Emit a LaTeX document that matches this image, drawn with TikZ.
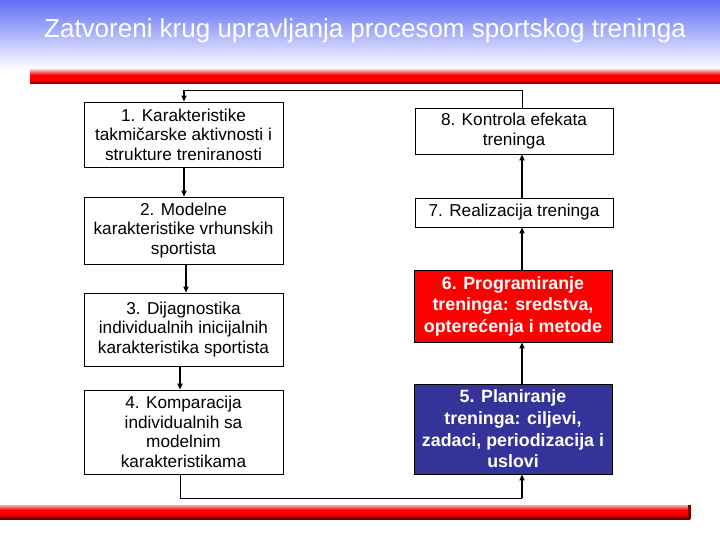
\documentclass[tikz,border=0pt]{standalone}
\usepackage{fontspec}
\setmainfont{Liberation Sans}
\usetikzlibrary{arrows.meta}
\definecolor{titleblue}{RGB}{96,110,246}
\definecolor{boxred}{RGB}{255,0,0}
\definecolor{boxblue}{RGB}{51,51,153}
\definecolor{barred}{RGB}{250,0,0}
\definecolor{bardark}{RGB}{90,0,0}
\definecolor{barlight}{RGB}{250,170,170}
\tikzset{
  pbox/.style={draw=black, line width=0.8pt, fill=white, align=center, inner sep=2pt,
    font=\fontsize{17.2}{19.6}\selectfont, text=black},
  redbox/.style={pbox, fill=boxred, text=white, font=\fontsize{17.8}{21.5}\selectfont\bfseries},
  bluebox/.style={pbox, fill=boxblue, text=white, font=\fontsize{17.8}{21.7}\selectfont\bfseries},
  arr/.style={line width=1.6pt, -{Triangle[length=6pt,width=5pt]}},
  loopline/.style={line width=0.9pt},
}
\begin{document}
\begin{tikzpicture}[x=1pt,y=-1pt]
\useasboundingbox (0,0) rectangle (720,540);
\fill[white] (0,0) rectangle (720,540);
% title gradient
\shade[top color=titleblue, bottom color=white] (0,0) rectangle (720,70);
\node[text=white, font=\fontsize{26}{28}\selectfont] (title) at (365,31) {Zatvoreni krug upravljanja procesom sportskog treninga};
% red bars
\shade[top color=barlight, bottom color=barred] (30,70) rectangle (720,75);
\fill[barred] (30,75) rectangle (720,80);
\shade[top color=barred, bottom color=bardark] (30,80) rectangle (720,84);
\shade[top color=barlight, bottom color=barred] (0,505) rectangle (690,510);
\fill[barred] (0,510) rectangle (690,514);
\shade[top color=barred, bottom color=bardark] (0,514) rectangle (690,519);
\fill[bardark!80!barred] (688,505) rectangle (691,519);
% boxes
\node[pbox, minimum width=199pt, minimum height=65pt] (b1) at (183.5,134.5)
  {1. Karakteristike\\takmičarske aktivnosti i\\strukture treniranosti};
\node[pbox, minimum width=199pt, minimum height=67pt] (b2) at (183.5,230.5)
  {2. Modelne\\karakteristike vrhunskih\\sportista};
\node[pbox, minimum width=199pt, minimum height=73pt] (b3) at (183.5,329.5)
  {3. Dijagnostika\\individualnih inicijalnih\\karakteristika sportista};
\node[pbox, minimum width=199pt, minimum height=84pt] (b4) at (183.5,432)
  {4. Komparacija\\individualnih sa\\modelnim\\karakteristikama};
\node[pbox, minimum width=198pt, minimum height=46pt] (b8) at (514,131)
  {8. Kontrola efekata\\treninga};
\node[pbox, minimum width=198pt, minimum height=29pt] (b7) at (514,212.5)
  {7. Realizacija treninga};
\node[redbox, minimum width=198pt, minimum height=72pt] (b6) at (513,306)
  {6. Programiranje\\treninga: sredstva,\\opterećenja i metode};
\node[bluebox, minimum width=198pt, minimum height=90pt] (b5) at (513,429)
  {5. Planiranje\\treninga: ciljevi,\\zadaci, periodizacija i\\uslovi};
% connectors left column
\draw[arr] ([xshift=0.5pt]b1.south) -- ([xshift=0.5pt]b2.north);
\draw[arr] ([xshift=2.5pt]b2.south) -- ([xshift=2.5pt]b3.north);
\draw[arr] ([xshift=-3.5pt]b3.south) -- ([xshift=-3.5pt]b4.north);
% right column
\draw[arr] ([xshift=9pt]b5.north) -- ([xshift=9pt]b6.south);
\draw[arr] ([xshift=9pt]b6.north) -- ([xshift=8pt]b7.south);
\draw[arr] ([xshift=8pt]b7.north) -- ([xshift=8pt]b8.south);
% loop
\coordinate (lb) at (180,498);
\coordinate (rb) at (522,498);
\draw[loopline] ([xshift=-3.5pt]b4.south) -- (lb) -- (rb);
\draw[arr, line width=1.2pt] (rb) -- ([xshift=9pt]b5.south);
\coordinate (rt) at (522,90);
\coordinate (lt) at (184,90);
\draw[loopline] ([xshift=8pt]b8.north) -- (rt) -- (lt);
\draw[arr, line width=1.2pt] (lt) -- ([xshift=0.5pt]b1.north);
\end{tikzpicture}
\end{document}
